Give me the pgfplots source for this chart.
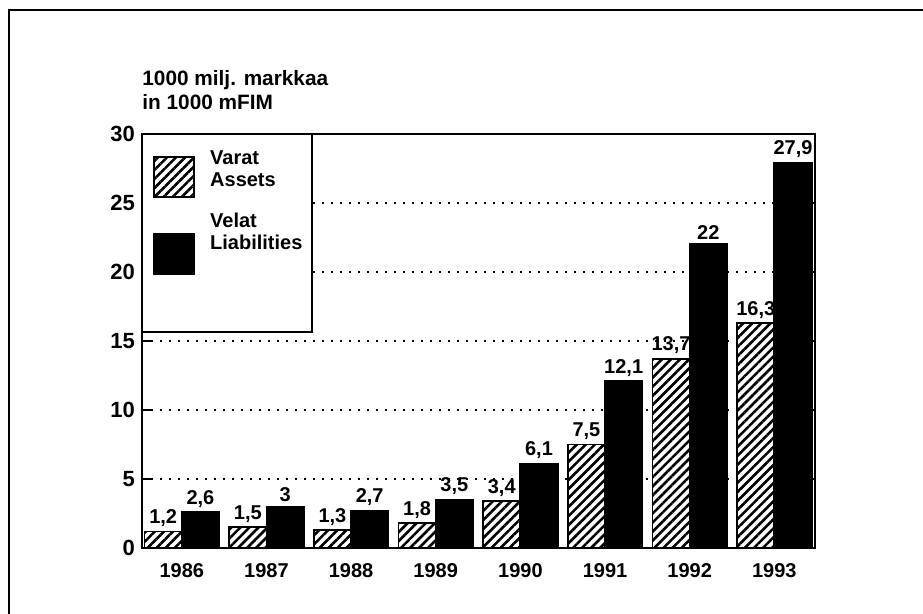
\documentclass[border=0pt]{standalone}
\usepackage{fontspec}
\setmainfont{Liberation Sans}
\usepackage{pgfplots}
\pgfplotsset{compat=1.18}
\usetikzlibrary{patterns.meta}

\tikzset{hatch/.style={fill=white, postaction={pattern={Lines[angle=45,distance=3.2pt,line width=1.3pt]}}}}
\pgfplotsset{
  legA/.style={legend image code/.code={\draw[##1, line width=0.9pt] (0pt,-13.5pt) rectangle (20pt,6.5pt);}},
  legB/.style={legend image code/.code={\draw[##1, line width=0.9pt] (0pt,-20.5pt) rectangle (20pt,-0.25pt);}},
}

\begin{document}
\fontsize{10}{12}\selectfont\bfseries
\begin{tikzpicture}
\useasboundingbox (0,0) rectangle (461.5pt,307pt);
% outer frame (top and left only)
\draw[line width=1.2pt] (461.5pt,302pt) -- (4.5pt,302pt) -- (4.5pt,0pt);
\begin{axis}[
    at={(71pt,33pt)}, anchor=south west,
    scale only axis,
    width=336.5pt, height=207pt,
    ybar, bar width=0.44,
    xmin=-0.47, xmax=7.48,
    ymin=0, ymax=30,
    xtick={0,...,7},
    xticklabels={1986,1987,1988,1989,1990,1991,1992,1993},
    ytick={0,5,...,30},
    xtick style={draw=none},
    xticklabel style={yshift=-4pt},
    yticklabel style={font=\fontsize{11}{12}\selectfont\bfseries},
    tick align=inside,
    major tick length=5.5pt,
    ytick style={line width=1.2pt, black},
    axis line style={line width=1.2pt},
    ymajorgrids,
    grid style={black, line width=0.9pt, dash pattern=on 0.9pt off 3.6pt},
    /pgf/number format/.cd, use comma, assume math mode=true, /pgfplots/.cd,
    nodes near coords,
    nodes near coords style={font=\fontsize{10}{12}\selectfont\bfseries, inner sep=2pt},
    clip=false,
    legend style={at={(0,1)}, anchor=north west, draw=none, fill=none,
        inner xsep=5.5pt, inner ysep=8.3pt, row sep=7.5pt, column sep=7.5pt,
        nodes={inner sep=0pt, align=left, font=\fontsize{10}{11}\selectfont\bfseries}},
    legend cell align=left,
]
% legend frame
\draw[line width=1.2pt, fill=white] (axis description cs:0,1) rectangle (axis description cs:0.2526,0.5217);
\node[anchor=base west, inner sep=0pt, yshift=24pt, font=\fontsize{10.4}{12}\selectfont\bfseries] at (axis description cs:0,1) {1000 milj. markkaa};
\node[anchor=base west, inner sep=0pt, yshift=12pt, font=\fontsize{10.4}{12}\selectfont\bfseries] at (axis description cs:0,1) {in 1000 mFIM};

\addplot[draw=black, line width=0.9pt, hatch, bar shift=-0.22, legA] coordinates {
    (0,1.2) (1,1.5) (2,1.3) (3,1.8) (4,3.4) (5,7.5) (6,13.7) (7,16.3)};
\addlegendentry{Varat\\Assets}
\addplot[draw=black, fill=black, line width=0.9pt, bar shift=0.22, legB] coordinates {
    (0,2.6) (1,3) (2,2.7) (3,3.5) (4,6.1) (5,12.1) (6,22) (7,27.9)};
\addlegendentry{Velat\\Liabilities}
\end{axis}
\end{tikzpicture}
\end{document}
